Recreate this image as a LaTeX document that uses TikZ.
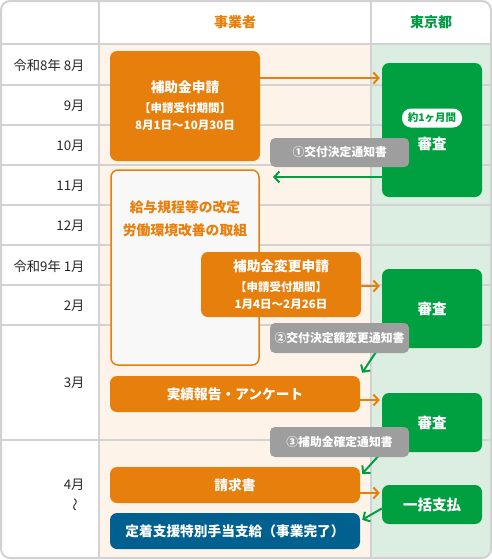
\documentclass[tikz,border=0pt]{standalone}
\usepackage{fontspec}
\setmainfont{Noto Sans CJK JP}
\usetikzlibrary{positioning,arrows.meta}

\definecolor{bizorange}{HTML}{E67F0B}
\definecolor{metrogreen}{HTML}{009F40}
\definecolor{headgreen}{HTML}{009944}
\definecolor{doneblue}{HTML}{00608F}
\definecolor{notegray}{HTML}{9E9E9E}
\definecolor{gridgray}{HTML}{D2D2D2}
\definecolor{bizbg}{HTML}{FEF3E8}
\definecolor{metrobg}{HTML}{DCEEE1}
\definecolor{reformbg}{HTML}{F8F8F8}

\newcommand{\boxfont}{\fontsize{13.7pt}{17pt}\selectfont\bfseries}
\newcommand{\periodfont}{\fontsize{11.5pt}{16pt}\selectfont\bfseries}

\tikzset{
	grid/.style={draw=gridgray, line width=2pt},
	head/.style={font=\fontsize{14pt}{16pt}\selectfont\bfseries},
	month/.style={anchor=east, font=\fontsize{13.3pt}{15pt}\selectfont, text=black!85},
	bizbox/.style={fill=bizorange, rounded corners=7pt, text=white, align=center, inner sep=0pt, font=\boxfont},
	metrobox/.style={fill=metrogreen, rounded corners=7pt, text=white, inner sep=0pt, minimum width=100pt, font=\fontsize{14.5pt}{16pt}\selectfont\bfseries},
	pill/.style={fill=white, text=metrogreen, rounded corners=9pt, minimum width=60pt, minimum height=19pt, inner sep=0pt, font=\fontsize{10.5pt}{12pt}\selectfont\bfseries},
	note/.style={fill=notegray, rounded corners=5pt, text=white, minimum width=139pt, inner sep=0pt, font=\fontsize{11.8pt}{14pt}\selectfont\bfseries},
	flowbiz/.style={draw=bizorange, line width=2pt, -{Straight Barb[length=5pt,width=11pt]}, shorten >=2pt},
	flowmetro/.style={draw=metrogreen, line width=2pt, -{Straight Barb[length=5pt,width=11pt]}},
}

\begin{document}
\begin{tikzpicture}[x=1pt,y=-1pt]
	\useasboundingbox (0,0) rectangle (492,560);
	% table
	\begin{scope}
		\clip[rounded corners=9pt] (1,1) rectangle (491,558);
		\fill[bizbg] (99,44) rectangle (371,558);
		\fill[metrobg] (371,44) rectangle (491,558);
		\foreach \y in {44,85,125,165,205,245,285,325,440}
			\draw[grid] (0,\y) -- (492,\y);
		\draw[grid] (99,0) -- (99,560);
		\draw[grid] (371,0) -- (371,560);
	\end{scope}
	\draw[grid, rounded corners=9pt] (1,1) rectangle (491,558);

	\node[head, text=bizorange] (bizhead) at (235,22) {事業者};
	\node[head, text=headgreen] (metrohead) at (431,22) {東京都};

	\node[month] (m8) at (88,65.5) {令和8年 8月};
	\node[month] (m9) at (88,106) {9月};
	\node[month] (m10) at (88,146) {10月};
	\node[month] (m11) at (88,186) {11月};
	\node[month] (m12) at (88,226) {12月};
	\node[month] (m1) at (88,266) {令和9年 1月};
	\node[month] (m2) at (88,306) {2月};
	\node[month] (m3) at (88,383) {3月};
	\node[month] (m4) at (88,485) {4月};
	\node[month, anchor=center, rotate=90] (wave) at (77,505) {〜};

	% boxes
	\node[bizbox, minimum width=150pt, minimum height=110pt] (apply) at (185,106) {補助金申請\\[3pt]{\periodfont 【申請受付期間】}\\{\periodfont 8月1日〜10月30日}};
	\node[metrobox, minimum height=134pt] (rev1) at (432,130) {};
	\node[pill] (span) at (432,118) {約1ヶ月間};
	\node[text=white, font=\fontsize{14.5pt}{16pt}\selectfont\bfseries] (rev1txt) at (432,144) {審査};

	\node[draw=bizorange, line width=1.5pt, fill=reformbg, rounded corners=7pt, minimum width=148pt, minimum height=195pt] (reform) at (185,267.5) {};
	\node[text=bizorange, align=center, font=\fontsize{13.8pt}{23pt}\selectfont\bfseries] (reformtxt) at (185,218.5) {給与規程等の改定\\労働環境改善の取組};

	\node[bizbox, minimum width=160pt, minimum height=65pt] (change) at (281,284.5) {補助金変更申請\\[3pt]{\periodfont 【申請受付期間】}\\{\periodfont 1月4日〜2月26日}};
	\node[metrobox, minimum height=79pt] (rev2) at (432,308.5) {審査};

	\node[bizbox, minimum width=250pt, minimum height=36pt] (report) at (235,394) {実績報告・アンケート};
	\node[metrobox, minimum height=59pt] (rev3) at (432,422.5) {審査};

	\node[bizbox, minimum width=250pt, minimum height=36pt] (invoice) at (235,485) {請求書};
	\node[metrobox, minimum height=39pt] (pay) at (432,504.5) {一括支払};

	\node[bizbox, fill=doneblue, minimum width=250pt, minimum height=36pt] (done) at (235,531) {定着支援特別手当支給（事業完了）};

	% notices go on top, so draw them after the arrows
	\coordinate (n1w) at (270,152.5);
	\draw[flowbiz] ([yshift=28pt]apply.east) -- ([yshift=28pt]apply.east -| rev1.west);
	\draw[flowmetro] ([yshift=-47pt]rev1.west) -- ([xshift=3pt, yshift=-47pt]rev1.west -| n1w);
	\draw[flowbiz] ([yshift=-1.5pt]change.east) -- ([yshift=-1.5pt]change.east -| rev2.west);
	\draw[flowmetro] ([shift={(-2,-2)}]rev2.south west) -- ([shift={(2,-3)}]report.north east);
	\draw[flowbiz] ([yshift=-6pt]report.east) -- ([yshift=-6pt]report.east -| rev3.west);
	\draw[flowmetro] (rev3.south west) -- ([shift={(2,7)}]invoice.north east);
	\draw[flowbiz] ([yshift=-8pt]invoice.east) -- ([yshift=-8pt]invoice.east -| pay.west);
	\draw[flowmetro] ([yshift=-4pt]pay.west) -- ([shift={(2,7)}]done.north east);

	\node[note, minimum height=29pt] (note1) at (n1w) [anchor=west] {①交付決定通知書};
	\node[note, minimum height=30pt] (note2) at (339.5,338) {②交付決定額変更通知書};
	\node[note, minimum height=30pt] (note3) at (339.5,442) {③補助金確定通知書};
\end{tikzpicture}
\end{document}
